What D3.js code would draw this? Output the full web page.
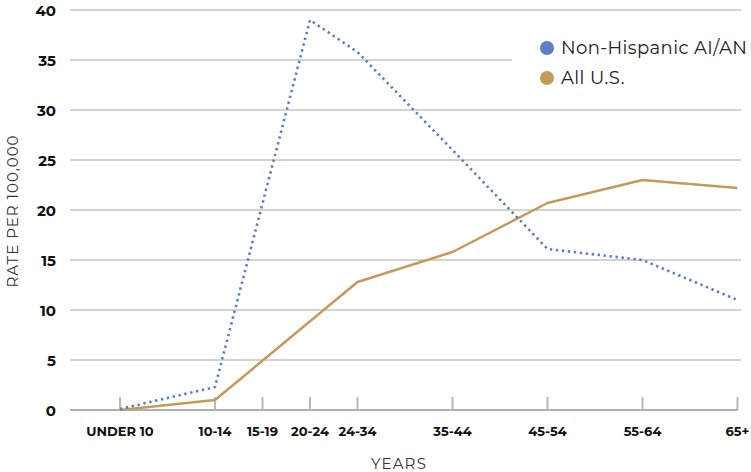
<!DOCTYPE html>
<html><head><meta charset="utf-8">
<script src="https://cdn.jsdelivr.net/npm/d3@7"></script>
<style>body{margin:0;background:#fff}svg{display:block}</style>
</head><body>
<svg id="c" width="751" height="472"></svg>
<script>
const categories = ["UNDER 10","10-14","15-19","20-24","24-34","35-44","45-54","55-64","65+"];
const categoryPos = [0,2,3,4,5,7,9,11,13];
const yTicks = [0,5,10,15,20,25,30,35,40];
const seriesNames = ["Non-Hispanic AI/AN","All U.S."];
const aianValues = [0.1,2.3,null,39.0,35.8,26.0,16.1,15.0,11.0];
const usValues = [0.0,1.0,null,null,12.8,15.8,20.7,23.0,22.2];

const colors = ["#5b7fc4","#c49a5a"];
const svg = d3.select("#c");
const x = d3.scaleLinear().domain([0,13]).range([120,737.5]);
const y = d3.scaleLinear().domain([0,40]).range([410,10]);
const font = "Montserrat, 'Open Sans', Lato, sans-serif";

// gridlines
svg.append("g").selectAll("line").data(yTicks.filter(d=>d>0)).join("line")
  .attr("x1",70).attr("x2",d=>d===35?512:741)
  .attr("y1",d=>y(d)).attr("y2",d=>y(d))
  .attr("stroke","#c4c4c4").attr("stroke-width",1.5);

// y labels
svg.append("g").selectAll("text").data(yTicks).join("text")
  .attr("x",56).attr("y",d=>y(d)+5.5).attr("text-anchor","end")
  .attr("font-family",font).attr("font-weight",700).attr("font-size",15).attr("fill","#111")
  .text(d=>d);

// x axis line and ticks
svg.append("line").attr("x1",70).attr("x2",738).attr("y1",y(0)).attr("y2",y(0))
  .attr("stroke","#b0b0b0").attr("stroke-width",2);
svg.append("g").selectAll("line").data(categoryPos).join("line")
  .attr("x1",d=>x(d)).attr("x2",d=>x(d)).attr("y1",397).attr("y2",410)
  .attr("stroke","#b8b8b8").attr("stroke-width",2);
svg.append("g").selectAll("text").data(categories).join("text")
  .attr("x",(d,i)=>x(categoryPos[i])).attr("y",436).attr("text-anchor","middle")
  .attr("font-family",font).attr("font-weight",700).attr("font-size",13).attr("fill","#111")
  .text(d=>d);

// axis titles
svg.append("text").attr("x",399).attr("y",469).attr("text-anchor","middle")
  .attr("font-family",font).attr("font-size",15).attr("letter-spacing",1.2).attr("fill","#333").text("YEARS");
svg.append("text").attr("transform","translate(18,211) rotate(-90)").attr("text-anchor","middle")
  .attr("font-family",font).attr("font-size",15).attr("letter-spacing",1).attr("fill","#333").text("RATE PER 100,000");

// lines
const line = d3.line().x(d=>x(d.p)).y(d=>y(d.v));
function pts(vals){return vals.map((v,i)=>({p:categoryPos[i],v})).filter(d=>d.v!==null);}
svg.append("path").datum(pts(usValues)).attr("d",line)
  .attr("fill","none").attr("stroke",colors[1]).attr("stroke-width",2.5).attr("stroke-linejoin","round");
svg.append("path").datum(pts(aianValues)).attr("d",line)
  .attr("fill","none").attr("stroke",colors[0]).attr("stroke-width",2.6)
  .attr("stroke-dasharray","2.4,3.6");

// legend
const lg = svg.append("g");
seriesNames.forEach((n,i)=>{
  lg.append("circle").attr("cx",547).attr("cy",48+i*30).attr("r",7).attr("fill",colors[i]);
  lg.append("text").attr("x",561).attr("y",54+i*30).attr("font-family",font)
    .attr("font-size",18).attr("letter-spacing",0.4).attr("fill","#222").text(n);
});
</script>
</body></html>
